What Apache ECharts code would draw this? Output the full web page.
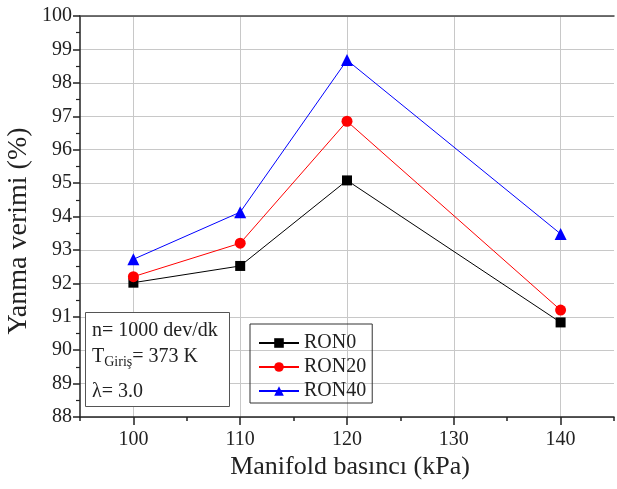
<!DOCTYPE html>
<html><head><meta charset="utf-8">
<script src="https://cdn.jsdelivr.net/npm/echarts@6/dist/echarts.min.js"></script>
<style>html,body{margin:0;padding:0;background:#fff}#c{width:617px;height:489px}</style>
</head><body><div id="c"></div>
<script>
const pressures = [100, 110, 120, 140];
const ron0 = [92.02, 92.52, 95.08, 90.83];
const ron20 = [92.2, 93.2, 96.85, 91.2];
const ron40 = [92.72, 94.13, 98.68, 93.48];
const seriesNames = ['RON0', 'RON20', 'RON40'];
const xTicks = [100, 110, 120, 130, 140];

const F = 'Liberation Serif';
const pair = a => pressures.map((p, i) => [p, a[i]]);
const chart = echarts.init(document.getElementById('c'));
chart.setOption({
  animation: false,
  grid: { left: 80, right: -4, top: 16, bottom: 72 },
  xAxis: [{
    type: 'value', min: 95, max: 145, interval: 5,
    axisLine: { onZero: false, lineStyle: { color: '#222', width: 1.5 } },
    axisTick: { show: true, length: 4, lineStyle: { color: '#222', width: 1.5 } },
    axisLabel: { fontFamily: F, fontSize: 20, color: '#222', margin: 13,
      formatter: v => xTicks.includes(v) ? String(v) : '' },
    splitLine: { show: false }
  }, {
    type: 'value', position: 'bottom', min: 95, max: 145,
    axisLine: { show: false },
    axisTick: { show: true, customValues: xTicks, length: 8, lineStyle: { color: '#222', width: 1.5 } },
    axisLabel: { show: false },
    splitLine: { show: true, lineStyle: { color: '#c8c8c8' } }
  }, {
    type: 'value', position: 'top', min: 95, max: 145,
    axisLine: { show: true, lineStyle: { color: '#444', width: 1.5 } },
    axisTick: { show: false }, axisLabel: { show: false }, splitLine: { show: false }
  }],
  yAxis: {
    type: 'value', min: 88, max: 100, interval: 1,
    axisLine: { show: true, onZero: false, lineStyle: { color: '#222', width: 1.5 } },
    axisTick: { show: true, length: 7, lineStyle: { color: '#222', width: 1.5 } },
    minorTick: { show: true, splitNumber: 2, length: 4, lineStyle: { color: '#222', width: 1.2 } },
    axisLabel: { fontFamily: F, fontSize: 20, color: '#222', margin: 8 },
    splitLine: { show: true, lineStyle: { color: '#c8c8c8' } }
  },
  legend: {
    orient: 'vertical', left: 250, top: 324, itemGap: 4,
    itemWidth: 40, itemHeight: 12,
    padding: [9, 6, 2, 8],
    borderColor: '#333', borderWidth: 1,
    textStyle: { fontFamily: F, fontSize: 20, color: '#222' },
    data: seriesNames
  },
  series: [
    { name: seriesNames[0], type: 'line', data: pair(ron0), symbol: 'rect', symbolSize: 10,
      itemStyle: { color: '#000' }, lineStyle: { color: '#000', width: 1 } },
    { name: seriesNames[1], type: 'line', data: pair(ron20), symbol: 'circle', symbolSize: 11,
      itemStyle: { color: '#ff0000' }, lineStyle: { color: '#ff0000', width: 1 } },
    { name: seriesNames[2], type: 'line', data: pair(ron40), symbol: 'triangle', symbolSize: 12,
      itemStyle: { color: '#0000ff' }, lineStyle: { color: '#0000ff', width: 1 } }
  ],
  graphic: [
    { type: 'text', x: 19, y: 231, rotation: Math.PI / 2,
      style: { text: 'Yanma verimi (%)', font: '28px "Liberation Serif"', fill: '#222', align: 'center', verticalAlign: 'middle' } },
    { type: 'text', x: 350, y: 467,
      style: { text: 'Manifold basıncı (kPa)', font: '26px "Liberation Serif"', fill: '#222', align: 'center', verticalAlign: 'middle' } },
    { type: 'rect', shape: { x: 85.5, y: 312.5, width: 144, height: 94 },
      style: { fill: '#fff', stroke: '#555', lineWidth: 1 }, z: 100 },
    { type: 'text', x: 92, y: 331, z: 101,
      style: { text: 'n= 1000 dev/dk', font: '20px "Liberation Serif"', fill: '#222', verticalAlign: 'middle' } },
    { type: 'text', x: 92, y: 357, z: 101,
      style: { rich: { a: { font: '20px "Liberation Serif"', fill: '#222' }, s: { font: '14px "Liberation Serif"', fill: '#222', padding: [10, 0, 0, 0] } },
        text: '{a|T}{s|Giriş}{a|= 373 K}', verticalAlign: 'middle' } },
    { type: 'text', x: 92, y: 392, z: 101,
      style: { text: 'λ= 3.0', font: '20px "Liberation Serif"', fill: '#222', verticalAlign: 'middle' } }
  ]
});
</script></body></html>
